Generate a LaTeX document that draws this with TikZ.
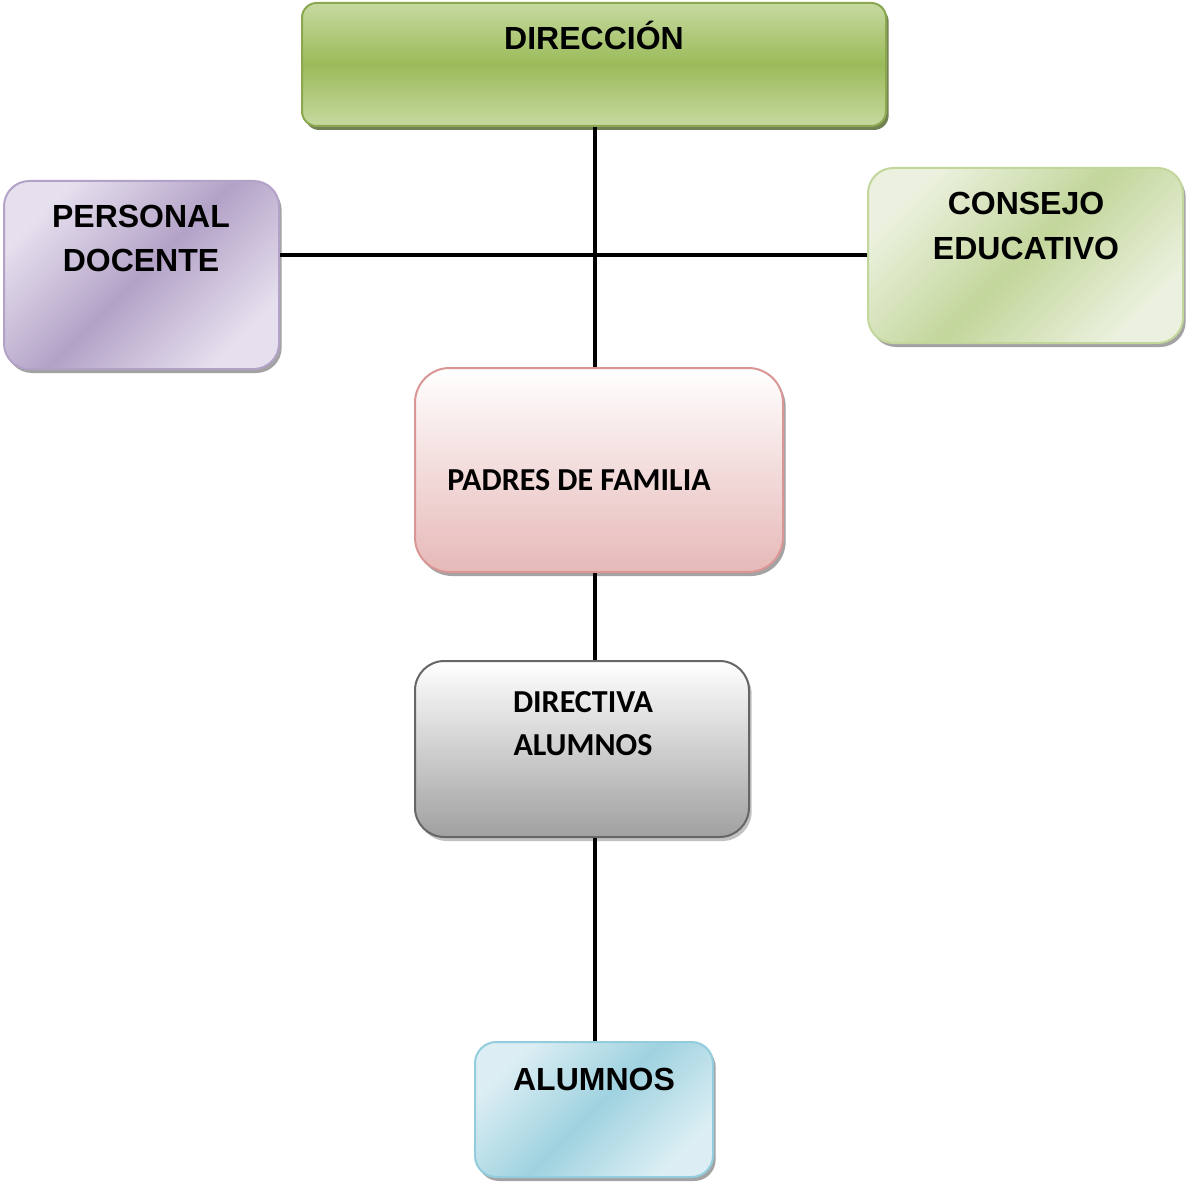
\documentclass[tikz,border=0pt]{standalone}
\usepackage{fontspec}
\setmainfont{Liberation Sans}
\newfontfamily\calib{Carlito}
\usetikzlibrary{shadows}
\definecolor{gDark}{HTML}{9BBB59}
\definecolor{gLight}{HTML}{C6D9A0}
\definecolor{gShadow}{HTML}{4F6228}
\definecolor{pDark}{HTML}{B3A2C7}
\definecolor{pLight}{HTML}{E6E0EE}
\definecolor{cDark}{HTML}{C3D69B}
\definecolor{cLight}{HTML}{EBF1DE}
\definecolor{rTop}{HTML}{FFFFFF}
\definecolor{rBot}{HTML}{E6B9B8}
\definecolor{rBorder}{HTML}{D99694}
\definecolor{kBot}{HTML}{A0A0A0}
\definecolor{kBorder}{HTML}{666666}
\definecolor{bDark}{HTML}{9FD2E0}
\definecolor{bLight}{HTML}{DCEEF3}
\definecolor{bBorder}{HTML}{93CDDD}
\tikzset{
  boxnode/.style={rectangle, line width=1.5pt, inner sep=0pt},
  shad/.style={drop shadow={shadow xshift=2pt, shadow yshift=-3pt, fill=#1, opacity=0.8}},
  arialtxt/.style={font=\fontsize{24}{28}\selectfont\bfseries, anchor=base, inner sep=0pt},
  calibtxt/.style={font=\calib\fontsize{24}{28}\selectfont\bfseries, anchor=base, inner sep=0pt},
  conn/.style={line width=3.6pt, black}
}
\begin{document}
\begin{tikzpicture}[x=0.75pt,y=-0.75pt]
\useasboundingbox (0,0) rectangle (1186,1184);
% boxes
\node[boxnode, shad=gShadow, rounded corners=11pt, draw=gDark!90!black,
      top color=gLight, bottom color=gLight, middle color=gDark,
      minimum width=438pt, minimum height=92.25pt] (dir) at (594,64.5) {};
\node[boxnode, shad=black!45, rounded corners=19pt, draw=pDark,
      top color=pLight, bottom color=pLight, middle color=pDark, shading angle=45,
      minimum width=206.25pt, minimum height=141pt] (pers) at (141.5,275) {};
\node[boxnode, shad=black!45, rounded corners=19pt, draw=cDark,
      top color=cLight, bottom color=cLight, middle color=cDark, shading angle=45,
      minimum width=236.25pt, minimum height=131.25pt] (cons) at (1025.5,255.5) {};
\node[boxnode, shad=black!45, rounded corners=26pt, draw=rBorder,
      top color=rTop, bottom color=rBot,
      minimum width=276pt, minimum height=153pt] (pad) at (599,470) {};
\node[boxnode, shad=black!30, rounded corners=22pt, draw=kBorder,
      top color=white, bottom color=kBot,
      minimum width=250.5pt, minimum height=132pt] (dirv) at (582,749) {};
\node[boxnode, shad=black!45, rounded corners=16pt, draw=bBorder,
      top color=bLight, bottom color=bLight, middle color=bDark, shading angle=45,
      minimum width=178.5pt, minimum height=101.25pt] (alu) at (594,1109.5) {};
% texts
\node[arialtxt] (tdir) at (594,50) {DIRECCIÓN};
\node[arialtxt] (tpers1) at (141,228) {PERSONAL};
\node[arialtxt] (tpers2) at (141,272) {DOCENTE};
\node[arialtxt] (tcons1) at (1026,215) {CONSEJO};
\node[arialtxt] (tcons2) at (1026,260) {EDUCATIVO};
\node[calibtxt] (tpad) at (579,490) {PADRES DE FAMILIA};
\node[calibtxt] (tdv1) at (583,712) {DIRECTIVA};
\node[calibtxt] (tdv2) at (583,755) {ALUMNOS};
\node[arialtxt] (talu) at (594,1090) {ALUMNOS};
% connectors
\coordinate (hub) at (595,255);
\draw[conn] (dir.south -| hub) -- (pad.north -| hub);
\draw[conn] (pers.east |- hub) -- (cons.west |- hub);
\draw[conn] (pad.south -| hub) -- (dirv.north -| hub);
\draw[conn] (dirv.south -| hub) -- (alu.north -| hub);
\end{tikzpicture}
\end{document}
